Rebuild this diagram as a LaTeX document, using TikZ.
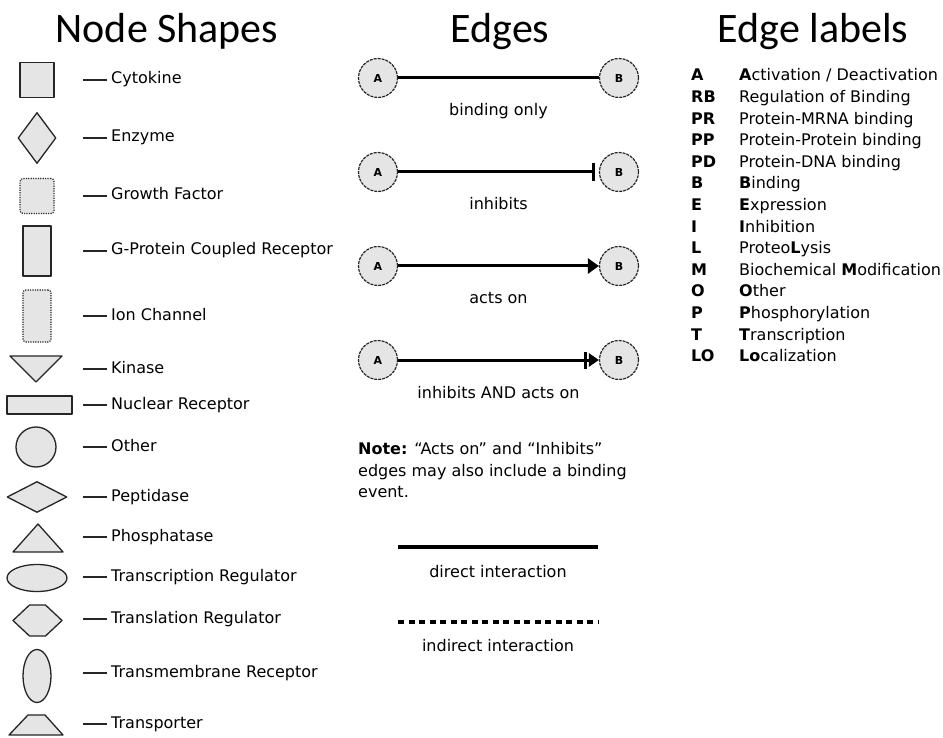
\documentclass[tikz,border=0pt]{standalone}
\usepackage{fontspec}
\setmainfont{DejaVu Sans}
\newfontfamily\titlefont{Carlito}
\usetikzlibrary{shapes.geometric,arrows.meta,positioning}

\tikzset{
  title/.style={anchor=base, inner sep=0pt, font=\titlefont\fontsize{42}{42}\selectfont},
  shapebox/.style={draw=black!85, fill=gray!20, line width=1.3pt, line join=round, inner sep=0pt},
  dotbox/.style={shapebox, line width=1.2pt, dash pattern=on 1.2pt off 1.2pt, rounded corners=3pt},
  legtext/.style={anchor=west, inner sep=0pt, text height=11pt, text depth=3pt, font=\fontsize{16}{18}\selectfont},
  tick/.style={line width=1.3pt, black!85},
  endpt/.style={circle, draw=black!85, fill=gray!20, line width=1.2pt, dash pattern=on 3pt off 1pt,
    minimum size=39pt, inner sep=0pt, font=\bfseries\fontsize{11}{11}\selectfont},
  link/.style={line width=3pt},
  edgelbl/.style={legtext, anchor=center, yshift=-34pt},
  inhib/.style={link, -{Bar[width=18pt,line width=3pt]}, shorten >=4pt},
  acts/.style={link, -{Triangle[length=11pt,width=15pt]}},
  both/.style={link, -{Bar[width=17pt,line width=2.5pt,sep=2pt]Triangle[length=10pt,width=13pt]}},
  abbr/.style={legtext, font=\bfseries\fontsize{16}{18}\selectfont}
}

\begin{document}
\begin{tikzpicture}[x=1pt,y=-1pt]
\useasboundingbox[fill=white] (0,0) rectangle (943,738);
% titles
\node[title] (tshapes) at (167,43) {Node Shapes};
\node[title] (tedges) at (500,43) {Edges};
\node[title] (tlabels) at (813,43) {Edge labels};

% node shapes
\node[shapebox, minimum width=34pt, minimum height=35pt] (cyto) at (37,80) {};
\node[shapebox, diamond, minimum width=38pt, minimum height=51pt] (enz) at (37,138) {};
\node[dotbox, minimum width=34pt, minimum height=35pt] (gf) at (37,196) {};
\node[shapebox, minimum width=28pt, minimum height=50pt] (gpcr) at (37,251) {};
\node[dotbox, minimum width=28pt, minimum height=52pt] (ion) at (37,316) {};
\coordinate (kin) at (36,369);
\draw[shapebox] (kin) ++(-26,-13) -- ++(52,0) -- ++(-26,26) -- cycle;
\node[shapebox, minimum width=65pt, minimum height=18pt] (nuc) at (39.5,405) {};
\node[shapebox, circle, minimum size=40pt] (oth) at (36,447) {};
\node[shapebox, diamond, minimum width=60pt, minimum height=31pt] (pep) at (37,497) {};
\coordinate (phos) at (38,538);
\draw[shapebox] (phos) ++(-25,14) -- ++(50,0) -- ++(-25,-28) -- cycle;
\node[shapebox, ellipse, minimum width=60pt, minimum height=27pt] (treg) at (37,578) {};
\coordinate (tlreg) at (37.5,620.5);
\draw[shapebox] (tlreg) ++(-24.5,0) -- ++(16.5,-15.5) -- ++(16,0) -- ++(16.5,15.5)
  -- ++(-16.5,15.5) -- ++(-16,0) -- cycle;
\node[shapebox, ellipse, minimum width=28pt, minimum height=53pt] (tmr) at (37,676) {};
\coordinate (tport) at (36,725);
\draw[shapebox] (tport) ++(-27,10) -- ++(19,-20) -- ++(17,0) -- ++(18,20) -- cycle;

% shape names
\foreach \yy/\txt [count=\k] in {80/Cytokine, 138/Enzyme, 196/Growth Factor,
  251/G-Protein Coupled Receptor, 316/Ion Channel, 369/Kinase, 405/Nuclear Receptor,
  447/Other, 497/Peptidase, 537/Phosphatase, 577/Transcription Regulator,
  619/Translation Regulator, 673/Transmembrane Receptor, 724/Transporter} {
  \node[legtext] (lbl\k) at (111,\yy) {\txt};
  \draw[tick] ([xshift=-28pt]lbl\k.west) -- ([xshift=-4pt]lbl\k.west);
}

% edges
\node[endpt] (a1) at (378,78) {A};
\node[endpt] (b1) at (619,78) {B};
\node[endpt] (a2) at (378,172) {A};
\node[endpt] (b2) at (619,172) {B};
\node[endpt] (a3) at (378,266) {A};
\node[endpt] (b3) at (619,266) {B};
\node[endpt] (a4) at (378,360) {A};
\node[endpt] (b4) at (619,360) {B};
\draw[link] (a1) -- (b1) node[midway, edgelbl] (e1) {binding only};
\draw[inhib] (a2) -- (b2) node[midway, edgelbl] (e2) {inhibits};
\draw[acts] (a3) -- (b3) node[midway, edgelbl] (e3) {acts on};
\draw[both] (a4) -- (b4) node[midway, edgelbl] (e4) {inhibits AND acts on};

% note
\node[legtext] (note1) at (358,450) {\textbf{Note:} “Acts on” and “Inhibits”};
\node[legtext] (note2) at (358,472) {edges may also include a binding};
\node[legtext] (note3) at (358,493) {event.};

% line styles
\coordinate (d1) at (398,547);
\coordinate (d2) at (598,547);
\draw[line width=4pt] (d1) -- (d2);
\node[legtext, anchor=center] (dlbl) at (498,573) {direct interaction};
\coordinate (i1) at (398,622);
\coordinate (i2) at (598,622);
\draw[line width=3.5pt, dash pattern=on 6pt off 4.5pt] (i1) -- (i2);
\node[legtext, anchor=center] (ilbl) at (498,647) {indirect interaction};

% edge labels
\foreach \ab/\desc [count=\i from 0] in {A/{\textbf{A}ctivation / Deactivation},
  RB/Regulation of Binding, PR/Protein-MRNA binding, PP/Protein-Protein binding,
  PD/Protein-DNA binding, B/\textbf{B}inding, E/\textbf{E}xpression,
  I/\textbf{I}nhibition, L/Proteo\textbf{L}ysis, M/Biochemical \textbf{M}odification,
  O/\textbf{O}ther, P/\textbf{P}hosphorylation, T/\textbf{T}ranscription,
  LO/\textbf{Lo}calization} {
  \node[abbr] (ab\i) at (691,{77+21.6*\i}) {\ab};
  \node[legtext] (de\i) at (739,{77+21.6*\i}) {\desc};
}
\end{tikzpicture}
\end{document}
